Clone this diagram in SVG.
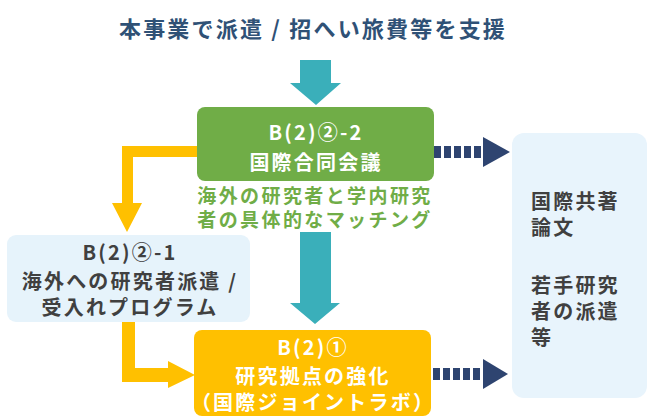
<svg xmlns="http://www.w3.org/2000/svg" width="654" height="418" viewBox="0 0 654 418">
<style>
text{font-family:"Noto Sans CJK JP","Noto Sans",sans-serif;font-weight:bold;font-size:20px;letter-spacing:2.2px}
.c{text-anchor:middle}
.w{fill:#ffffff}
.d{fill:#404040}
.g{fill:#70ad47;font-size:19px;letter-spacing:2.4px}
.title{fill:#2f5176;font-size:22px;letter-spacing:2.2px}
.teal{fill:#3aafba}
.org{fill:#ffc000}
.dash{stroke:#2e4470;stroke-width:12;stroke-dasharray:7 3;fill:none}
.head{fill:#2e4470}
</style>
<rect width="654" height="418" fill="#ffffff"/>
<g id="title"><text class="title c" x="313" y="37">本事業で派遣 / 招へい旅費等を支援</text></g>
<g id="connectors">
<polygon class="teal" points="300,60 331,60 331,83 341,83 316,105 290,83 300,83"/>
<polygon class="teal" points="300,232 331,232 331,303 340,303 315,324 290,303 300,303"/>
<polygon class="org" points="197,146 197,157 133,157 133,203 142,203 127,232 112,203 122,203 122,146"/>
<polygon class="org" points="122,322 135,322 135,368 168,368 168,361 195,375 168,388 168,382 122,382"/>
<line class="dash" x1="434" y1="152" x2="484" y2="152"/>
<polygon class="head" points="483,137 510,152 483,167"/>
<line class="dash" x1="433" y1="374" x2="484" y2="374"/>
<polygon class="head" points="483,359 508,374 483,389"/>
</g>
<g id="node-b222">
<rect x="197" y="107" width="237" height="74" rx="8" fill="#70ad47"/>
<text class="w c" x="316" y="140">B(2)②-2<tspan x="316" dy="30">国際合同会議</tspan></text>
</g>
<g id="label-matching">
<text class="g c" x="315" y="203">海外の研究者と学内研究<tspan x="315" dy="24">者の具体的なマッチング</tspan></text>
</g>
<g id="node-b221">
<rect x="7" y="235" width="243" height="87" rx="9" fill="#e6f3fb"/>
<text class="d c" x="130" y="260">B(2)②-1<tspan x="130" dy="29">海外への研究者派遣 /</tspan><tspan x="130" dy="26">受入れプログラム</tspan></text>
</g>
<g id="node-b21">
<rect x="194" y="330" width="237" height="86" rx="8" fill="#ffc000"/>
<text class="w c" x="313" y="355">B(2)①<tspan x="313" dy="29">研究拠点の強化</tspan><tspan x="313" dy="26">（国際ジョイントラボ）</tspan></text>
</g>
<g id="node-output">
<rect x="512" y="133" width="135" height="265" rx="12" fill="#e8f4fc"/>
<text class="d" x="531" y="209">国際共著<tspan x="531" dy="26">論文</tspan><tspan x="531" dy="58">若手研究</tspan><tspan x="531" dy="26">者の派遣</tspan><tspan x="531" dy="26">等</tspan></text>
</g>
</svg>
